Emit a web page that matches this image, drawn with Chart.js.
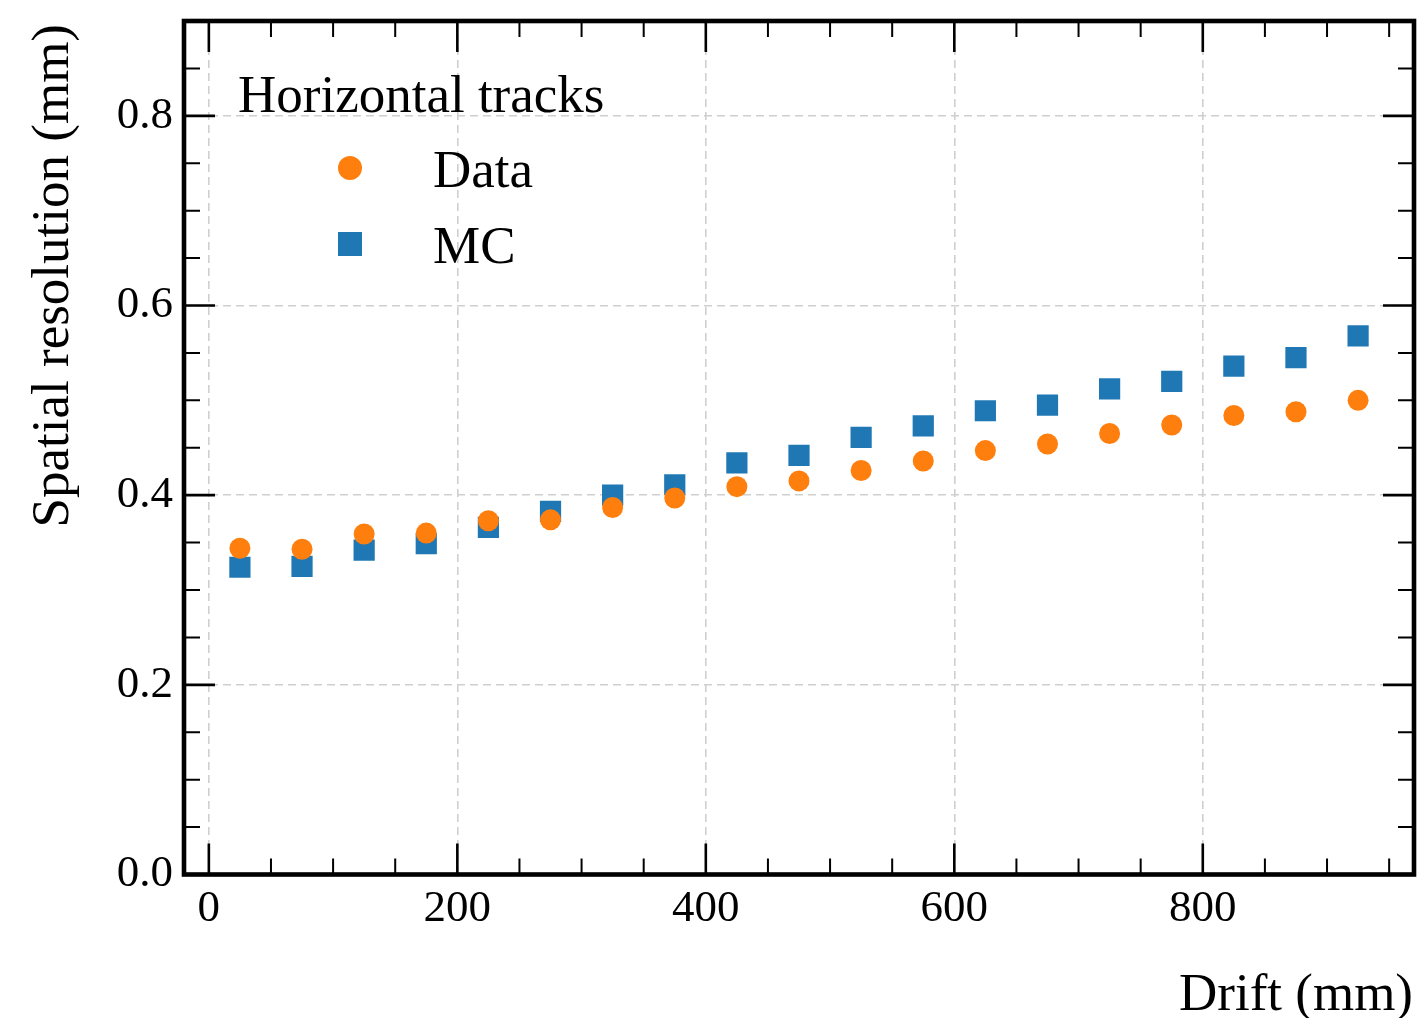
<!DOCTYPE html>
<html>
<head>
<meta charset="utf-8">
<script src="https://cdn.jsdelivr.net/npm/chart.js@4/dist/chart.umd.min.js"></script>
<style>
  html, body { margin: 0; padding: 0; background: #ffffff; }
  #wrap { width: 1420px; height: 1018px; }
</style>
</head>
<body>
<div id="wrap"><canvas id="c" width="1420" height="1018"></canvas></div>
<script>
// ---- data ----
const driftValues = [25, 75, 125, 175, 225, 275, 325, 375, 425, 475, 525, 575, 625, 675, 725, 775, 825, 875, 925];
const dataResolution = [0.344, 0.343, 0.359, 0.360, 0.373, 0.374, 0.387, 0.397, 0.409, 0.415, 0.426, 0.436, 0.447, 0.454, 0.465, 0.474, 0.484, 0.488, 0.500];
const mcResolution = [0.324, 0.325, 0.342, 0.349, 0.366, 0.383, 0.400, 0.411, 0.434, 0.442, 0.461, 0.473, 0.489, 0.495, 0.512, 0.520, 0.536, 0.545, 0.568];
const xTickValues = [0, 200, 400, 600, 800];
const xMinorTickValues = [50, 100, 150, 250, 300, 350, 450, 500, 550, 650, 700, 750, 850, 900, 950];
const yTickValues = [0.0, 0.2, 0.4, 0.6, 0.8];
const yMinorTickValues = [0.05, 0.1, 0.15, 0.25, 0.3, 0.35, 0.45, 0.5, 0.55, 0.65, 0.7, 0.75, 0.85];
const legendTitle = 'Horizontal tracks';
const seriesNames = ['Data', 'MC'];
const xTitle = 'Drift (mm)';
const yTitle = 'Spatial resolution (mm)';

const ORANGE = '#ff7f0e';
const BLUE = '#1f77b4';
const FONT = '"Liberation Serif", "Times New Roman", serif';

const toPoints = (ys) => driftValues.map((x, i) => ({ x: x, y: ys[i] }));

const framePlugin = {
  id: 'framePlugin',
  afterDraw(chart) {
    const ctx = chart.ctx;
    const a = chart.chartArea;
    const xs = chart.scales.x, ys = chart.scales.y;
    ctx.save();
    ctx.strokeStyle = '#000';
    // major ticks (inward, all four sides)
    ctx.lineWidth = 2.6;
    const MAJ = 31, MIN = 16;
    ctx.beginPath();
    xTickValues.forEach(v => {
      const px = xs.getPixelForValue(v);
      ctx.moveTo(px, a.bottom); ctx.lineTo(px, a.bottom - MAJ);
      ctx.moveTo(px, a.top); ctx.lineTo(px, a.top + MAJ);
    });
    yTickValues.forEach(v => {
      const py = ys.getPixelForValue(v);
      ctx.moveTo(a.left, py); ctx.lineTo(a.left + MAJ, py);
      ctx.moveTo(a.right, py); ctx.lineTo(a.right - MAJ, py);
    });
    ctx.stroke();
    ctx.lineWidth = 2;
    ctx.beginPath();
    xMinorTickValues.forEach(v => {
      const px = xs.getPixelForValue(v);
      ctx.moveTo(px, a.bottom); ctx.lineTo(px, a.bottom - MIN);
      ctx.moveTo(px, a.top); ctx.lineTo(px, a.top + MIN);
    });
    yMinorTickValues.forEach(v => {
      const py = ys.getPixelForValue(v);
      ctx.moveTo(a.left, py); ctx.lineTo(a.left + MIN, py);
      ctx.moveTo(a.right, py); ctx.lineTo(a.right - MIN, py);
    });
    ctx.stroke();
    // frame
    ctx.lineWidth = 4.6;
    ctx.strokeRect(a.left, a.top, a.right - a.left, a.bottom - a.top);

    // axis titles
    ctx.fillStyle = '#000';
    ctx.font = '53px ' + FONT;
    ctx.textAlign = 'right';
    ctx.textBaseline = 'alphabetic';
    ctx.fillText(xTitle, a.right - 1, 1010);
    ctx.save();
    ctx.translate(68, a.top + 3);
    ctx.rotate(-Math.PI / 2);
    ctx.textAlign = 'right';
    ctx.fillText(yTitle, 0, 0);
    ctx.restore();

    // legend
    const ds = chart.data.datasets;
    ctx.textAlign = 'left';
    ctx.fillText(legendTitle, 238, 112);
    const mx = 350;
    const rows = [{ y: 168, ds: ds[0] }, { y: 244, ds: ds[1] }];
    rows.forEach((r, i) => {
      ctx.fillStyle = r.ds.backgroundColor;
      if (r.ds.pointStyle === 'circle') {
        ctx.beginPath();
        ctx.arc(mx, r.y, 12, 0, Math.PI * 2);
        ctx.fill();
      } else {
        ctx.fillRect(mx - 12, r.y - 12, 24, 24);
      }
      ctx.fillStyle = '#000';
      ctx.fillText(seriesNames[i], 433, r.y + 19);
    });
    ctx.restore();
  }
};

new Chart(document.getElementById('c'), {
  type: 'scatter',
  data: {
    datasets: [
      {
        label: seriesNames[0],
        data: toPoints(dataResolution),
        pointStyle: 'circle',
        pointRadius: 10.5,
        pointHoverRadius: 10.5,
        backgroundColor: ORANGE,
        borderColor: ORANGE,
        borderWidth: 0
      },
      {
        label: seriesNames[1],
        data: toPoints(mcResolution),
        pointStyle: 'rect',
        pointRadius: 15,
        pointHoverRadius: 15,
        backgroundColor: BLUE,
        borderColor: BLUE,
        borderWidth: 0
      }
    ]
  },
  options: {
    responsive: false,
    animation: false,
    events: [],
    layout: { autoPadding: false, padding: { left: 0, top: 21, right: 6, bottom: 0 } },
    plugins: {
      legend: { display: false },
      tooltip: { enabled: false },
      title: { display: false }
    },
    scales: {
      x: {
        type: 'linear',
        min: -20,
        max: 970,
        afterBuildTicks: (s) => { s.ticks = xTickValues.map(v => ({ value: v })); },
        afterFit: (s) => { s.height = 143.5; s.paddingLeft = 0; s.paddingRight = 0; },
        grid: { color: '#cfcfcf', lineWidth: 1.6, drawTicks: false },
        border: { display: false, dash: [8, 5] },
        ticks: {
          color: '#000',
          padding: 8,
          maxRotation: 0,
          font: { family: FONT, size: 45 },
          callback: (v) => String(v)
        }
      },
      y: {
        type: 'linear',
        min: 0,
        max: 0.9,
        afterBuildTicks: (s) => { s.ticks = yTickValues.map(v => ({ value: v })); },
        afterFit: (s) => { s.width = 184; s.paddingTop = 0; s.paddingBottom = 0; },
        grid: { color: '#cfcfcf', lineWidth: 1.6, drawTicks: false },
        border: { display: false, dash: [8, 5] },
        ticks: {
          color: '#000',
          padding: 11,
          font: { family: FONT, size: 45 },
          callback: (v) => Number(v).toFixed(1)
        }
      }
    }
  },
  plugins: [framePlugin]
});
</script>
</body>
</html>
